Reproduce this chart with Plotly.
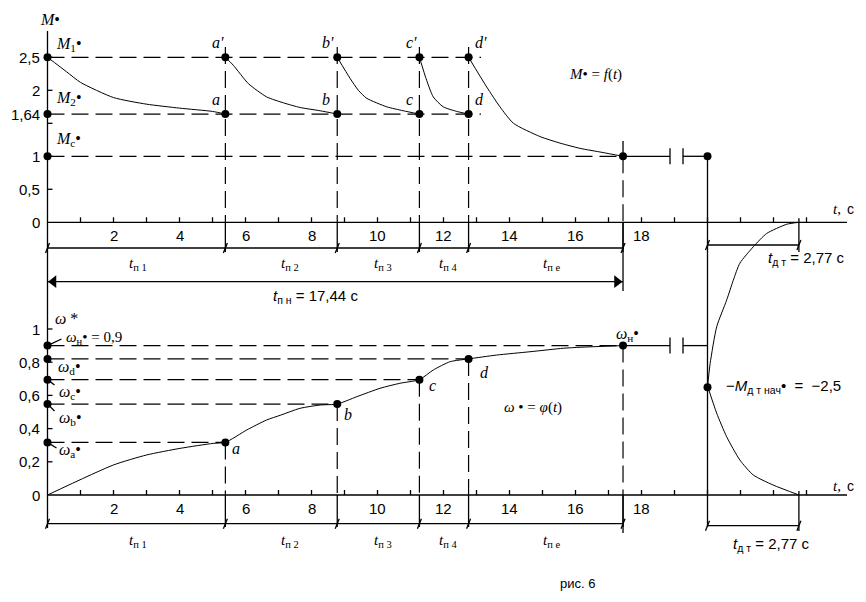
import plotly.graph_objects as go

# ---------------- data ----------------
t_ticks = list(range(1, 24))
t_tick_labels = [2, 4, 6, 8, 10, 12, 14, 16, 18]
M_ticks = [0.5, 1.0, 1.5, 2.0, 2.5]
M_tick_labels = {0: "0", 0.5: "0,5", 1.0: "1", 1.64: "1,64", 2.0: "2", 2.5: "2,5"}
w_ticks = [0.2, 0.4, 0.6, 0.8, 1.0]
w_tick_labels = {0: "0", 0.2: "0,2", 0.4: "0,4", 0.6: "0,6", 0.8: "0,8", 1.0: "1"}

t_points = [0, 5.39, 8.78, 11.27, 12.76, 17.44]   # 0, a, b, c, d, end
M1, M2, Mc = 2.5, 1.64, 1.0
w_abcd = [0.317, 0.548, 0.695, 0.82]
w_n = 0.9
t_brake_start = 20.0
t_brake = 2.77
M_brake_start = -2.5

# M*(t) curve segments
M_seg_t = [
    [0, 0.58, 1, 2, 3, 4, 5, 5.39],
    [5.39, 5.63, 6.09, 6.64, 7.15, 7.65, 8.26, 8.78],
    [8.78, 9.17, 9.42, 9.67, 10.28, 10.78, 11.27],
    [11.27, 11.49, 11.69, 11.99, 12.4, 12.76],
    [12.76, 13.31, 13.71, 14.12, 14.92, 15.53, 16.14, 16.8, 17.44],
]
M_seg_v = [
    [2.5, 2.28, 2.12, 1.89, 1.79, 1.73, 1.68, 1.64],
    [2.5, 2.38, 2.1, 1.9, 1.81, 1.74, 1.69, 1.64],
    [2.5, 2.18, 2.0, 1.88, 1.75, 1.69, 1.64],
    [2.5, 2.15, 1.9, 1.75, 1.68, 1.64],
    [2.5, 2.05, 1.75, 1.5, 1.3, 1.2, 1.12, 1.06, 1.0],
]
# omega*(t) curve
w_t = [0, 2, 3, 4.02, 5.02, 5.39, 6.04, 6.64, 7.05, 7.65, 8.26, 8.78, 9.37, 10.08,
       10.68, 11.27, 11.69, 12.2, 12.76, 13.61, 14.62, 15.63, 16.14, 17.44]
w_v = [0, 0.181, 0.241, 0.281, 0.311, 0.317, 0.392, 0.452, 0.48, 0.522, 0.542, 0.548,
       0.592, 0.643, 0.673, 0.695, 0.753, 0.803, 0.82, 0.843, 0.863, 0.884, 0.89, 0.9]
# braking curves
brM_t = [20.0, 20.08, 20.28, 20.58, 20.78, 20.98, 21.39, 21.79, 22.4, 22.77]
brM_v = [-2.5, -2.14, -1.58, -1.18, -0.88, -0.62, -0.37, -0.17, -0.03, 0.0]
brW_t = [20.0, 20.28, 20.58, 20.98, 21.39, 21.99, 22.77]
brW_v = [0.657, 0.492, 0.351, 0.211, 0.12, 0.06, 0.0]

# ---------------- layout geometry ----------------
W, H = 866, 602
X0PX, PXT = 47.5, 33.0
M0PX, PXM = 222.3, 66.0
W0PX, PXW = 495.0, 166.0

def dt(px): return px / PXT
def dM(px): return px / PXM
def dW(px): return px / PXW
def Mpx(py): return (M0PX - py) / PXM
def Wpx(py): return (W0PX - py) / PXW

fig = go.Figure()
DASH = "17px,7px"

def add_lines(segs, yaxis, dash="solid", width=1.2):
    xs, ys = [], []
    for (x0, y0, x1, y1) in segs:
        xs += [x0, x1, None]
        ys += [y0, y1, None]
    fig.add_trace(go.Scatter(x=xs, y=ys, mode="lines", yaxis=yaxis,
                             line=dict(color="black", width=width, dash=dash),
                             hoverinfo="skip", showlegend=False))

t_end = t_points[-1]
t_abcd = t_points[1:5]
x_axis_end = (847 - X0PX) / PXT
t_b1 = (670 - X0PX) / PXT
t_b2 = (683 - X0PX) / PXT
t_tt = t_brake_start + t_brake

# ---- top panel (M) solid lines
solid = []
solid.append((0, Mpx(31), 0, Mpx(528)))
solid.append((0, 0, x_axis_end, 0))
for t in t_ticks:
    solid.append((t, 0, t, dM(5)))
for m in M_ticks:
    solid.append((0, m, dt(5), m))
dimM = Mpx(248)
for t in t_points[1:]:
    solid.append((t, 0, t, Mpx(252)))
solid.append((t_end, Mc, t_end, Mpx(141)))
solid.append((t_end, 0, t_end, Mpx(291)))
solid.append((0, dimM, t_end, dimM))
for t in t_points:
    solid.append((t - dt(2), dimM - dM(5), t + dt(2), dimM + dM(5)))
arrM = Mpx(281.7)
solid.append((0, arrM, t_end, arrM))
solid.append((t_end, Mc, t_b1, Mc))
solid.append((t_b2, Mc, t_brake_start, Mc))
solid.append((t_b1, Mc - dM(8), t_b1, Mc + dM(8)))
solid.append((t_b2, Mc - dM(8), t_b2, Mc + dM(8)))
solid.append((t_brake_start, Mc, t_brake_start, Mpx(527)))
dimB = Mpx(245)
solid.append((t_brake_start, dimB, t_tt, dimB))
for t in (t_brake_start, t_tt):
    solid.append((t - dt(2), dimB - dM(5), t + dt(2), dimB + dM(5)))
solid.append((t_tt, dM(4), t_tt, Mpx(252)))
add_lines(solid, "y", "solid", 1.3)

dashed = []
x_h_end = (481 - X0PX) / PXT
dashed.append((0, M1, x_h_end, M1))
dashed.append((0, M2, x_h_end, M2))
dashed.append((0, Mc, t_end, Mc))
for t in t_abcd:
    dashed.append((t, Mpx(47), t, 0))
dashed.append((t_end, Mc, t_end, 0))
add_lines(dashed, "y", DASH, 1.2)

# M curves
cx, cy = [], []
for ts, vs in zip(M_seg_t, M_seg_v):
    cx += ts + [None]
    cy += vs + [None]
fig.add_trace(go.Scatter(x=cx, y=cy, mode="lines", yaxis="y",
                         line=dict(color="black", width=1, shape="spline", smoothing=0.6),
                         hoverinfo="skip", showlegend=False, connectgaps=False))
fig.add_trace(go.Scatter(x=brM_t, y=brM_v, mode="lines", yaxis="y",
                         line=dict(color="black", width=1, shape="spline", smoothing=0.6),
                         hoverinfo="skip", showlegend=False))

# ---- bottom panel (omega) lines
solidw = []
solidw.append((0, 0, x_axis_end, 0))
for t in t_ticks:
    solidw.append((t, 0, t, dW(5)))
for w in w_ticks:
    solidw.append((0, w, dt(5), w))
for t in t_points[1:]:
    solidw.append((t, 0, t, Wpx(527)))
solidw.append((t_end, 0, t_end, Wpx(533)))
dimW = Wpx(523.7)
solidw.append((0, dimW, t_end, dimW))
for t in t_points:
    solidw.append((t - dt(2), dimW - dW(5), t + dt(2), dimW + dW(5)))
solidw.append((t_end, w_n, t_b1, w_n))
solidw.append((t_b2, w_n, t_brake_start, w_n))
solidw.append((t_b1, w_n - dW(8), t_b1, w_n + dW(8)))
solidw.append((t_b2, w_n - dW(8), t_b2, w_n + dW(8)))
dimWB = Wpx(525.7)
solidw.append((t_brake_start, dimWB, t_tt, dimWB))
for t in (t_brake_start, t_tt):
    solidw.append((t - dt(2), dimWB - dW(5), t + dt(2), dimWB + dW(5)))
solidw.append((t_tt, dW(4), t_tt, Wpx(531)))
# leaders
solidw.append((0, w_n, dt(14), Wpx(339)))
solidw.append((0, w_abcd[2], dt(7), Wpx(385)))
solidw.append((0, w_abcd[1], dt(7), Wpx(411)))
solidw.append((0, w_abcd[0], dt(9), Wpx(448)))
add_lines(solidw, "y2", "solid", 1.3)

dashedw = []
dashedw.append((0, w_n, t_end, w_n))
for t, w in zip(t_abcd, w_abcd):
    dashedw.append((0, w, t, w))
    dashedw.append((t, w, t, 0))
dashedw.append((t_end, w_n, t_end, 0))
add_lines(dashedw, "y2", DASH, 1.2)

fig.add_trace(go.Scatter(x=w_t, y=w_v, mode="lines", yaxis="y2",
                         line=dict(color="black", width=1, shape="spline", smoothing=0.6),
                         hoverinfo="skip", showlegend=False))
fig.add_trace(go.Scatter(x=brW_t, y=brW_v, mode="lines", yaxis="y2",
                         line=dict(color="black", width=1, shape="spline", smoothing=0.6),
                         hoverinfo="skip", showlegend=False))

# markers
mk = dict(color="black", size=8)
pxm = [0, 0, 0] + [t for t in t_abcd for _ in (0, 1)] + [t_end, t_brake_start, t_brake_start]
pym = [M1, M2, Mc] + [v for _ in t_abcd for v in (M1, M2)] + [Mc, Mc, M_brake_start]
fig.add_trace(go.Scatter(x=pxm, y=pym, mode="markers", yaxis="y", marker=mk,
                         hoverinfo="skip", showlegend=False))
pxw = [0] * 5 + t_abcd + [t_end]
pyw = [w_n] + list(reversed(w_abcd)) + w_abcd + [w_n]
fig.add_trace(go.Scatter(x=pxw, y=pyw, mode="markers", yaxis="y2", marker=mk,
                         hoverinfo="skip", showlegend=False))
# arrowheads
fig.add_trace(go.Scatter(x=[dt(6), t_end - dt(6)], y=[arrM, arrM], mode="markers", yaxis="y",
                         marker=dict(symbol=["triangle-left", "triangle-right"], size=11, color="black"),
                         hoverinfo="skip", showlegend=False))

# ---------------- text ----------------
SERIF = "Liberation Serif"
SANS = "Liberation Sans"
ann = []

def txt(px, py, text, size=15, family=SERIF, xa="left", ya="middle"):
    ann.append(dict(x=px / W, y=1 - py / H, xref="paper", yref="paper", text=text,
                    showarrow=False, xanchor=xa, yanchor=ya,
                    font=dict(family=family, size=size, color="black")))

# tick labels
for t in t_tick_labels:
    ann.append(dict(x=t, y=0, xref="x", yref="y", text=str(t), showarrow=False,
                    xanchor="center", yanchor="top", yshift=-3,
                    font=dict(family=SANS, size=15, color="black")))
    ann.append(dict(x=t, y=0, xref="x", yref="y2", text=str(t), showarrow=False,
                    xanchor="center", yanchor="top", yshift=-3,
                    font=dict(family=SANS, size=15, color="black")))
for m, lab in M_tick_labels.items():
    ann.append(dict(x=0, y=m, xref="x", yref="y", text=lab, showarrow=False,
                    xanchor="right", yanchor="middle", xshift=-6,
                    font=dict(family=SANS, size=15, color="black")))
for w, lab in w_tick_labels.items():
    ann.append(dict(x=0, y=w, xref="x", yref="y2", text=lab, showarrow=False,
                    xanchor="right", yanchor="middle", xshift=-6,
                    font=dict(family=SANS, size=15, color="black")))

txt(38, 20, "<i>M</i>•", 16)
txt(54, 45, "<i>M</i><sub>1</sub>•", 16)
txt(54, 98, "<i>M</i><sub>2</sub>•", 16)
txt(54, 140, "<i>M</i><sub>c</sub>•", 16)
for cxp, lab in [(218, "a"), (328, "b"), (411, "c"), (481, "d")]:
    txt(cxp, 43, "<i>%s'</i>" % lab, 16, xa="center")
    txt(cxp - 2, 100, "<i>%s</i>" % lab, 16, xa="center")
txt(567, 75, "<i>M</i>• = <i>f</i>(<i>t</i>)", 15)
txt(831, 209, "<i>t</i>,", 15)
txt(845, 209, "с", 14, SANS)
txt(831, 486, "<i>t</i>,", 15)
txt(845, 486, "с", 14, SANS)

for py in (264, 541):
    txt(138, py, "<i>t</i><sub>п 1</sub>", 15, xa="center")
    txt(290, py, "<i>t</i><sub>п 2</sub>", 15, xa="center")
    txt(383, py, "<i>t</i><sub>п 3</sub>", 15, xa="center")
    txt(448, py, "<i>t</i><sub>п 4</sub>", 15, xa="center")
    txt(551, py, "<i>t</i><sub>п е</sub>", 15, xa="center")
txt(271, 296, "<i>t</i><sub>п н</sub> = 17,44 с", 15, SANS)
txt(766, 258, "<i>t</i><sub>д т</sub> = 2,77 с", 15, SANS)
txt(731, 544, "<i>t</i><sub>д т</sub> = 2,77 с", 15, SANS)
txt(724, 386, "−<i>M</i><sub>д т нач</sub>•  =  −2,5", 15, SANS)

txt(53, 318, "<i>ω</i> *", 16)
txt(64, 338, "<i>ω</i><sub>н</sub>• = 0,9", 15)
txt(56, 367, "<i>ω</i><sub>d</sub>•", 16)
txt(57, 392, "<i>ω</i><sub>c</sub>•", 16)
txt(57, 419, "<i>ω</i><sub>b</sub>•", 16)
txt(57, 450, "<i>ω</i><sub>a</sub>•", 16)
txt(614, 334, "<i>ω</i><sub>н</sub>•", 16)
txt(236, 449, "<i>a</i>", 16, xa="center")
txt(348, 414, "<i>b</i>", 16, xa="center")
txt(432, 385, "<i>c</i>", 16, xa="center")
txt(484, 372, "<i>d</i>", 16, xa="center")
txt(502, 407, "<i>ω</i> • = <i>φ</i>(<i>t</i>)", 15)
txt(577, 583, "рис. 6", 13, SANS, xa="center")

fig.update_layout(
    width=W, height=H, margin=dict(l=0, r=0, t=0, b=0),
    paper_bgcolor="white", plot_bgcolor="white",
    xaxis=dict(range=[-X0PX / PXT, (W - X0PX) / PXT], visible=False),
    yaxis=dict(range=[(M0PX - H) / PXM, M0PX / PXM], visible=False),
    yaxis2=dict(range=[(W0PX - H) / PXW, W0PX / PXW], visible=False,
                overlaying="y"),
    annotations=ann, showlegend=False,
)

fig.write_html("out.html", config={"displayModeBar": False},
               post_script="document.body.style.margin='0px';")
